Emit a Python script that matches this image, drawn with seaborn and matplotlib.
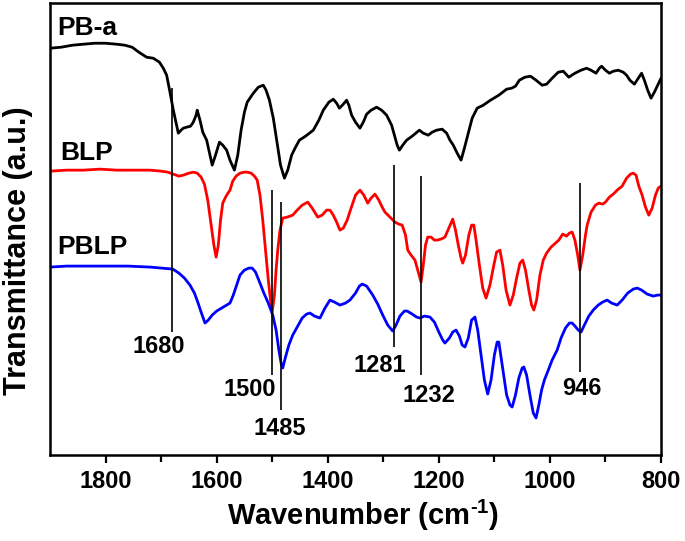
import numpy as np
import pandas as pd
import matplotlib
matplotlib.use('Agg')
import matplotlib.pyplot as plt
import seaborn as sns

# FTIR spectra (wavenumber in cm-1, transmittance in a.u. with offsets)
pba_wn = [1900, 1880, 1860, 1840, 1820, 1800, 1780, 1765, 1752, 1740, 1726, 1714, 1703, 1696, 1690,
          1684, 1678, 1672, 1669, 1664, 1660, 1654, 1647, 1642, 1637, 1635, 1630, 1625, 1618, 1612,
          1608, 1602, 1595, 1589, 1582, 1576, 1568, 1562, 1556, 1550, 1545, 1534, 1525, 1516, 1511,
          1505, 1498, 1492, 1485, 1478, 1472, 1465, 1458, 1451, 1440, 1426, 1416, 1408, 1398, 1390,
          1384, 1379, 1372, 1366, 1362, 1357, 1350, 1342, 1336, 1330, 1322, 1312, 1303, 1294, 1285,
          1280, 1275, 1271, 1265, 1258, 1248, 1235, 1228, 1219, 1212, 1204, 1194, 1186, 1180, 1174,
          1167, 1160, 1154, 1148, 1140, 1131, 1120, 1107, 1092, 1078, 1069, 1062, 1055, 1045, 1035,
          1025, 1014, 1006, 996, 985, 976, 966, 955, 944, 934, 926, 917, 911, 907, 900,
          893, 886, 877, 868, 862, 856, 848, 841, 835, 830, 824, 818, 812, 806, 800]
pba_t = [407, 408, 410, 411, 412, 412, 411, 410, 408, 403, 398, 397, 393, 387, 380,
         363, 345, 330, 322, 325, 327, 328, 329, 333, 340, 345, 335, 323, 315, 300,
         290, 300, 313, 310, 305, 295, 285, 300, 325, 343, 353, 362, 368, 370, 365,
         355, 337, 315, 290, 277, 285, 300, 308, 315, 319, 325, 335, 345, 353, 356,
         352, 347, 351, 355, 350, 340, 333, 327, 333, 341, 345, 348, 345, 340, 330,
         320, 310, 305, 310, 315, 319, 325, 322, 320, 323, 325, 326, 322, 315, 310,
         302, 295, 307, 320, 337, 347, 350, 355, 360, 366, 367, 369, 375, 378, 379,
         375, 370, 371, 377, 383, 384, 378, 382, 385, 387, 385, 382, 387, 389, 385,
         382, 384, 385, 383, 380, 375, 371, 377, 382, 375, 365, 357, 363, 370, 377]

blp_wn = [1900, 1870, 1840, 1810, 1780, 1750, 1720, 1700, 1688, 1678, 1668, 1660, 1650, 1642, 1635,
          1628, 1622, 1616, 1610, 1605, 1601, 1597, 1593, 1589, 1583, 1576, 1571, 1565, 1558, 1550,
          1545, 1538, 1532, 1527, 1522, 1517, 1512, 1507, 1503, 1500, 1496, 1493, 1490, 1486, 1481,
          1473, 1463, 1455, 1446, 1436, 1428, 1418, 1410, 1402, 1396, 1390, 1384, 1378, 1372, 1365,
          1358, 1350, 1342, 1335, 1328, 1322, 1315, 1308, 1302, 1297, 1288, 1279, 1272, 1266, 1260,
          1256, 1250, 1243, 1238, 1232, 1228, 1224, 1220, 1214, 1208, 1203, 1196, 1189, 1182, 1175,
          1170, 1165, 1160, 1157, 1152, 1146, 1141, 1137, 1133, 1127, 1121, 1115, 1108, 1101, 1096,
          1090, 1085, 1079, 1072, 1066, 1060, 1054, 1049, 1044, 1038, 1033, 1029, 1024, 1018, 1012,
          1006, 998, 990, 984, 977, 970, 965, 960, 955, 950, 946, 941, 936, 933, 926,
          918, 912, 905, 900, 893, 886, 879, 870, 862, 855, 850, 845, 840, 834, 828,
          822, 816, 810, 805, 800]
blp_t = [284, 285, 285, 286, 285, 285, 285, 284, 283, 281, 279, 280, 282, 283, 282,
         278, 271, 255, 230, 210, 198, 210, 235, 252, 259, 265, 274, 279, 282, 283,
         283, 282, 279, 275, 260, 235, 205, 175, 155, 143, 160, 185, 205, 225, 237,
         238, 240, 245, 250, 253, 247, 238, 240, 245, 245, 240, 233, 225, 227, 235,
         247, 260, 265, 260, 252, 257, 261, 255, 248, 243, 238, 233, 231, 230, 220,
         205, 200, 195, 185, 173, 190, 210, 218, 218, 215, 215, 216, 218, 227, 236,
         225, 210, 197, 192, 200, 220, 230, 230, 215, 190, 167, 157, 170, 190, 203,
         205, 190, 165, 150, 160, 177, 192, 195, 185, 165, 150, 145, 155, 180, 195,
         202, 208, 212, 215, 221, 219, 222, 223, 215, 200, 185, 200, 220, 230, 243,
         250, 252, 251, 253, 258, 261, 265, 269, 277, 281, 282, 280, 269, 260, 248,
         240, 247, 260, 267, 269]

pblp_wn = [1900, 1870, 1840, 1800, 1760, 1720, 1700, 1679, 1668, 1658, 1648, 1640, 1634, 1628, 1621,
           1615, 1608, 1600, 1594, 1585, 1576, 1570, 1564, 1558, 1550, 1542, 1536, 1530, 1522, 1515,
           1507, 1499, 1493, 1488, 1484, 1481, 1476, 1470, 1463, 1455, 1446, 1438, 1432, 1424, 1414,
           1405, 1396, 1388, 1378, 1368, 1360, 1350, 1343, 1338, 1330, 1319, 1310, 1301, 1292, 1283,
           1277, 1270, 1262, 1257, 1248, 1240, 1234, 1226, 1216, 1208, 1200, 1193, 1189, 1181, 1175,
           1169, 1163, 1158, 1153, 1147, 1141, 1135, 1130, 1124, 1118, 1112, 1106, 1100, 1095, 1092,
           1086, 1078, 1072, 1068, 1062, 1056, 1050, 1047, 1042, 1036, 1030, 1025, 1020, 1015, 1010,
           1005, 996, 987, 980, 972, 965, 960, 955, 949, 944, 938, 930, 922, 913, 905,
           897, 889, 879, 870, 860, 850, 843, 835, 825, 814, 806, 800]
pblp_t = [188, 189, 189, 189, 189, 188, 187, 186, 182, 177, 170, 162, 153, 143, 132,
          135, 140, 144, 146, 149, 152, 160, 170, 180, 185, 187, 187, 183, 172, 162,
          152, 140, 125, 105, 92, 87, 98, 110, 120, 128, 137, 141, 142, 139, 137,
          147, 155, 153, 150, 152, 155, 162, 169, 171, 169, 160, 151, 140, 130, 124,
          130, 139, 144, 144, 141, 138, 137, 139, 138, 133, 123, 115, 112, 117, 123,
          125, 119, 110, 108, 117, 135, 138, 125, 100, 75, 61, 75, 100, 113, 113,
          90, 60, 50, 48, 60, 77, 87, 88, 80, 60, 42, 37, 50, 65, 75,
          82, 95, 105, 117, 127, 132, 132, 129, 125, 123, 130, 139, 145, 150, 153,
          155, 152, 150, 155, 162, 166, 167, 165, 161, 159, 160, 160]

# marked bands: position, line bottom/top, label position
band_pos = [1680, 1500, 1485, 1281, 1232, 946]
band_bottom = [123, 80, 45, 108, 80, 83]
band_top = [367, 265, 253, 290, 279, 272]
band_text = ['1680', '1500', '1485', '1281', '1232', '946']
band_text_x = [1704, 1540, 1486, 1306, 1218, 942]
band_text_y = [109, 66, 26, 90, 60, 67]

series_names = ['PB-a', 'BLP', 'PBLP']
series_colors = ['black', '#ff0000', '#0000ff']
name_x = [1887, 1882, 1887]
name_y = [427, 302, 208]

sns.set_style('ticks')
plt.rcParams['font.family'] = ['Liberation Sans', 'DejaVu Sans']
plt.rcParams['font.weight'] = 'bold'
plt.rcParams['text.color'] = 'black'
plt.rcParams['axes.labelcolor'] = 'black'
plt.rcParams['axes.edgecolor'] = 'black'
plt.rcParams['xtick.color'] = 'black'
plt.rcParams['ytick.color'] = 'black'
plt.rcParams['mathtext.fontset'] = 'custom'
plt.rcParams['mathtext.rm'] = 'Liberation Sans:bold'
plt.rcParams['mathtext.bf'] = 'Liberation Sans:bold'
plt.rcParams['mathtext.default'] = 'bf'

fig = plt.figure(figsize=(6.85, 5.41), dpi=100)
ax = fig.add_axes([0.073, 0.159, 0.892, 0.835])

frames = [
    pd.DataFrame({'wn': pba_wn, 't': pba_t}),
    pd.DataFrame({'wn': blp_wn, 't': blp_t}),
    pd.DataFrame({'wn': pblp_wn, 't': pblp_t}),
]
for df, c in zip(frames, series_colors):
    sns.lineplot(data=df, x='wn', y='t', color=c, linewidth=2.0, sort=False,
                 estimator=None, ax=ax)

for pos, lo, hi in zip(band_pos, band_bottom, band_top):
    ax.vlines(pos, lo, hi, color='black', linewidth=1.2)
for txt, tx, ty in zip(band_text, band_text_x, band_text_y):
    ax.text(tx, ty, txt, ha='center', va='center', fontsize=17, fontweight='bold')

for name, nx, ny in zip(series_names, name_x, name_y):
    ax.text(nx, ny, name, ha='left', va='center', fontsize=19, fontweight='bold')

ax.set_xlim(1900, 800)
ax.set_ylim(0, 452)
ax.set_xticks([1800, 1600, 1400, 1200, 1000, 800])
ax.set_xticks(np.arange(900, 1900, 200), minor=True)
ax.set_yticks([])
ax.tick_params(axis='x', which='major', direction='out', length=6, width=1.6,
               labelsize=17, pad=5)
ax.tick_params(axis='x', which='minor', direction='out', length=5, width=1.6)
for lab in ax.get_xticklabels():
    lab.set_fontweight('bold')
for s in ax.spines.values():
    s.set_visible(True)
    s.set_linewidth(1.8)
    s.set_color('black')

ax.set_xlabel(r'Wavenumber (cm$^{\text{-1}}$)', fontsize=21, fontweight='bold')
ax.set_ylabel('Transmittance (a.u.)', fontsize=22, fontweight='bold')
ax.yaxis.set_label_coords(-0.028, 0.452)
ax.xaxis.set_label_coords(0.512, -0.095)
ax.xaxis.label.set_va('top')

fig.savefig('out.png', dpi=100)
plt.close(fig)
